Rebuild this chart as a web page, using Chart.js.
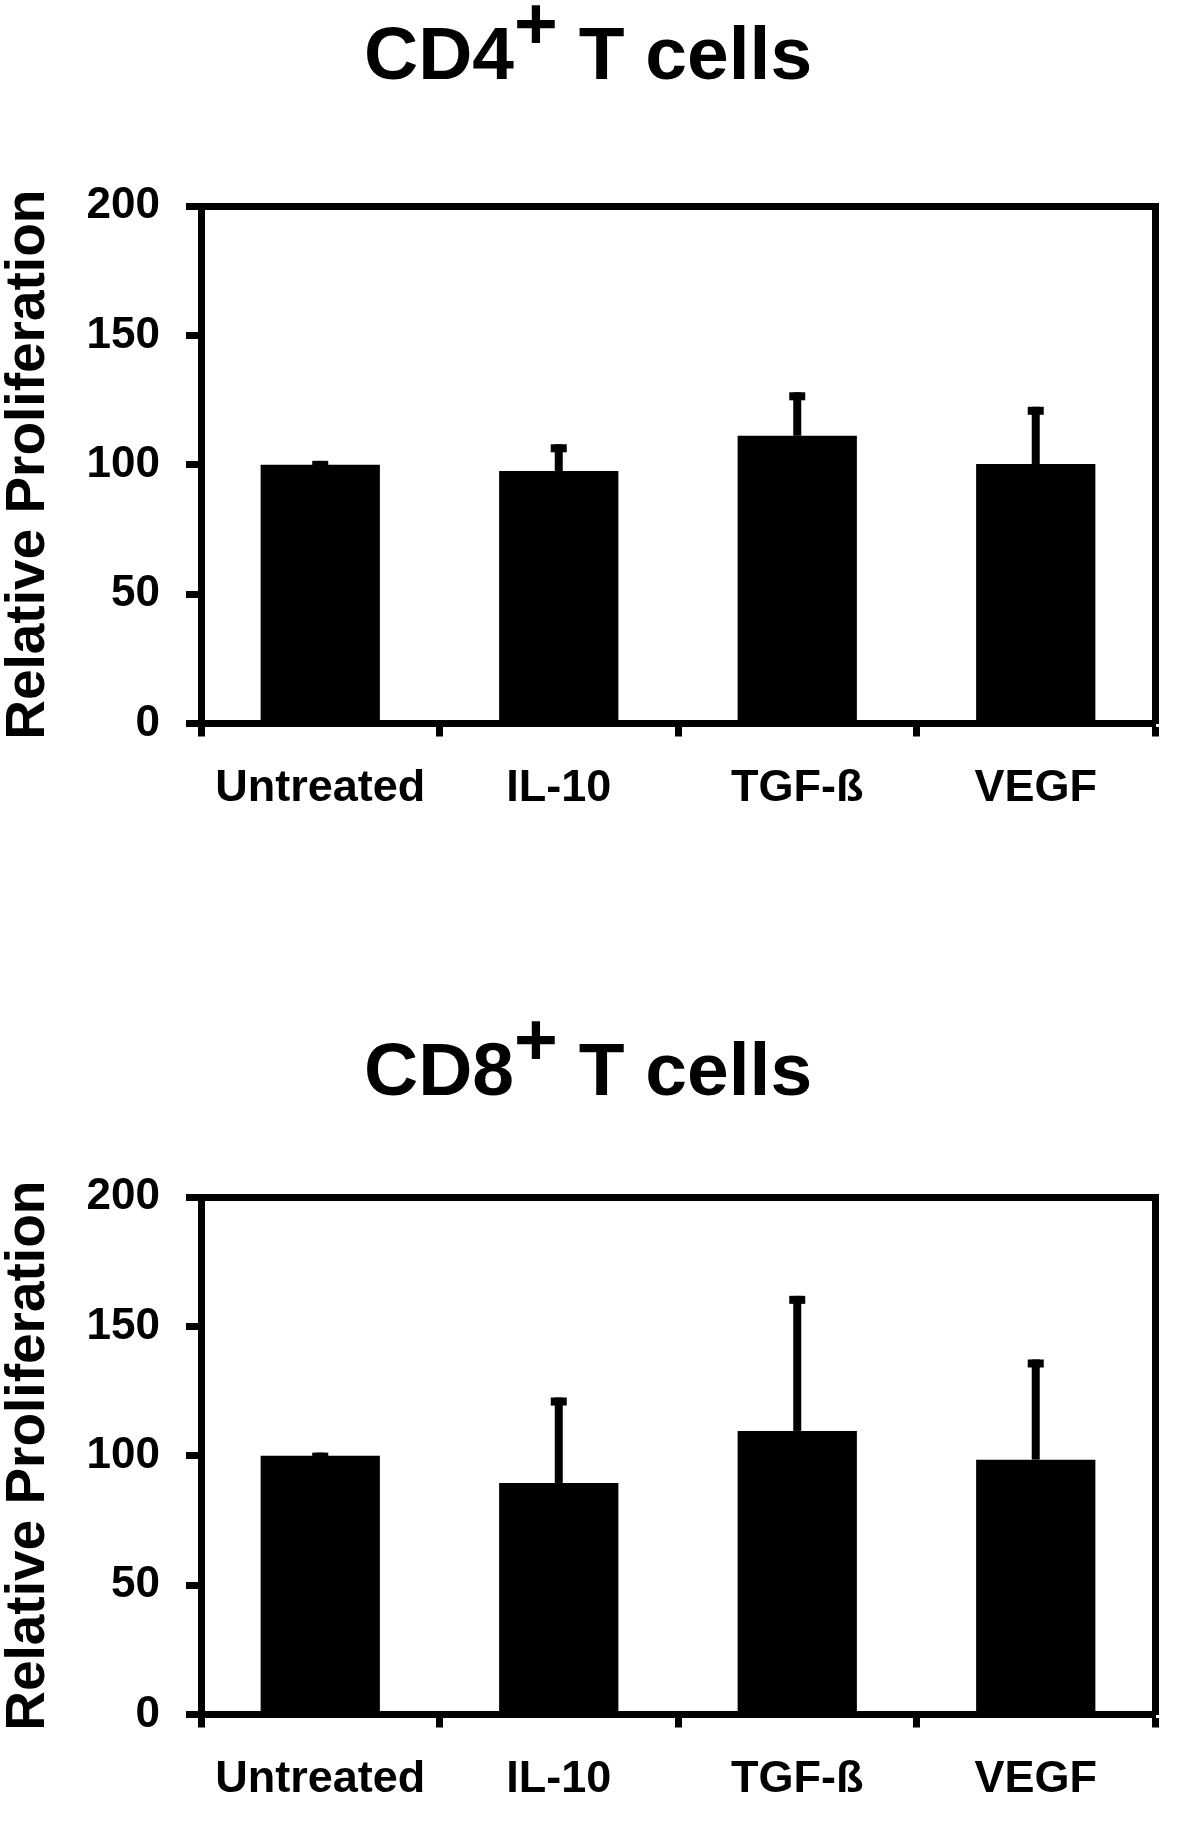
<!DOCTYPE html>
<html>
<head>
<meta charset="utf-8">
<script src="https://cdn.jsdelivr.net/npm/chart.js@4/dist/chart.umd.min.js"></script>
<style>
    html, body { margin: 0; padding: 0; background: #fff; }
    body { width: 1200px; height: 1846px; position: relative; overflow: hidden; }
    .titulo {
        position: absolute;
        left: 364px;
        font: bold 75px/1 'Liberation Sans', Arial, sans-serif;
        color: #000;
        white-space: pre;
    }
    .titulo .mais { position: relative; top: -30px; }
    canvas { position: absolute; left: 0; }
</style>
</head>
<body>
<div class="titulo" style="top:16px">CD4<span class="mais">+</span> T cells</div>
<canvas id="graficoCD4" width="1200" height="855" style="top:0"></canvas>
<div class="titulo" style="top:1032px">CD8<span class="mais">+</span> T cells</div>
<canvas id="graficoCD8" width="1200" height="855" style="top:991px"></canvas>
<script>
const categorias = ['Untreated', 'IL-10', 'TGF-ß', 'VEGF'];

const mediasCD4 = [100, 97.6, 111.2, 100.3];
const errosCD4 = [1.5, 10.3, 16.8, 22.1];

const mediasCD8 = [100, 89.5, 109.6, 98.5];
const errosCD8 = [1.2, 33.0, 52.2, 38.7];

const ticksY = [0, 50, 100, 150, 200];

const fonte = "'Liberation Sans', Arial, sans-serif";

// barras de erro (só para cima), desenhadas pela escala y
const barrasErro = {
    id: 'barrasErro',
    afterDatasetsDraw(chart, args, opts) {
        const ctx = chart.ctx;
        const meta = chart.getDatasetMeta(0);
        const escalaY = chart.scales.y;
        const medias = chart.data.datasets[0].data;
        ctx.save();
        ctx.fillStyle = '#000';
        meta.data.forEach(function(barra, i) {
            const topo = escalaY.getPixelForValue(medias[i] + opts.erros[i]);
            ctx.fillRect(barra.x - 4, topo, 8, barra.y - topo);
            ctx.fillRect(barra.x - 8, topo, 16, 8);
        });
        ctx.restore();
    }
};

function criarGrafico(id, medias, erros) {
    return new Chart(document.getElementById(id), {
        type: 'bar',
        data: {
            labels: categorias,
            datasets: [{
                data: medias,
                backgroundColor: '#000',
                borderWidth: 0,
                barPercentage: 0.5,
                categoryPercentage: 1.0
            }]
        },
        options: {
            responsive: false,
            animation: false,
            devicePixelRatio: 1,
            layout: { padding: { top: 206, right: 45, bottom: 31.5, left: 0 } },
            plugins: {
                legend: { display: false },
                tooltip: { enabled: false },
                barrasErro: { erros: erros }
            },
            scales: {
                x: {
                    type: 'category',
                    offset: true,
                    afterFit: function(s) { s.height = 100; },
                    grid: {
                        offset: true,
                        drawOnChartArea: false,
                        drawTicks: true,
                        tickLength: 13,
                        tickWidth: 7,
                        tickColor: '#000',
                        color: '#000'
                    },
                    border: { display: true, width: 7, color: '#000' },
                    ticks: {
                        color: '#000',
                        padding: 25,
                        font: { family: fonte, size: 45, weight: 'bold' }
                    }
                },
                xTopo: {
                    type: 'category',
                    axis: 'x',
                    position: 'top',
                    afterFit: function(s) { s.height = 0; },
                    grid: { drawOnChartArea: false, drawTicks: false },
                    border: { display: true, width: 7, color: '#000' },
                    ticks: { display: false }
                },
                y: {
                    min: 0,
                    max: 200,
                    afterFit: function(s) { s.width = 201; },
                    afterBuildTicks: function(s) {
                        s.ticks = ticksY.map(function(v) { return { value: v }; });
                    },
                    grid: {
                        drawOnChartArea: false,
                        drawTicks: true,
                        tickLength: 15,
                        tickWidth: 7,
                        tickColor: '#000',
                        color: '#000'
                    },
                    border: { display: true, width: 7, color: '#000' },
                    ticks: {
                        color: '#000',
                        padding: 26,
                        font: { family: fonte, size: 44, weight: 'bold' }
                    },
                    title: {
                        display: true,
                        text: 'Relative Proliferation',
                        color: '#000',
                        padding: { top: 1, bottom: 0 },
                        font: { family: fonte, size: 55, weight: 'bold', lineHeight: 1 }
                    }
                },
                yDireita: {
                    type: 'linear',
                    axis: 'y',
                    position: 'right',
                    min: 0,
                    max: 200,
                    afterFit: function(s) { s.width = 0; },
                    grid: { drawOnChartArea: false, drawTicks: false },
                    border: { display: true, width: 7, color: '#000' },
                    ticks: { display: false }
                }
            }
        },
        plugins: [barrasErro]
    });
}

criarGrafico('graficoCD4', mediasCD4, errosCD4);
criarGrafico('graficoCD8', mediasCD8, errosCD8);
</script>
</body>
</html>
